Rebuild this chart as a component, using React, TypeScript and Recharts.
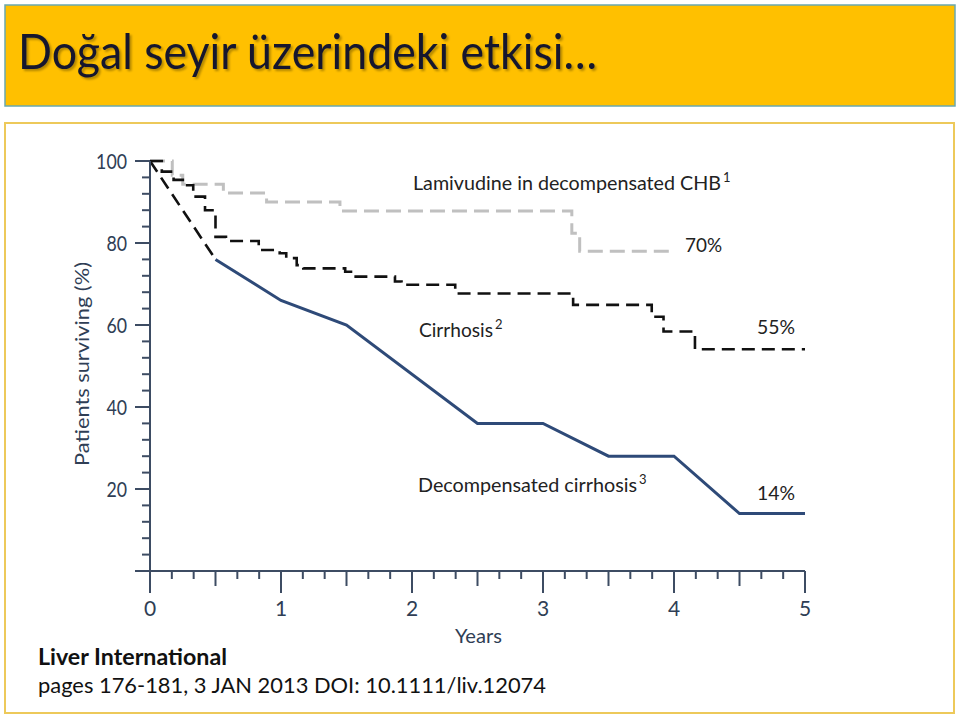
import { LineChart, Line, XAxis, YAxis } from "recharts";

// survival curves (t = years, v = % surviving)
const lamivudine = [
  { t: 0, v: 100 },
  { t: 0.17, v: 96.5 },
  { t: 0.25, v: 94.3 },
  { t: 0.56, v: 92.2 },
  { t: 0.89, v: 90 },
  { t: 1.45, v: 87.8 },
  { t: 3.22, v: 82.4 },
  { t: 3.28, v: 78 },
  { t: 3.99, v: 78 },
];

const cirrhosis = [
  { t: 0, v: 100 },
  { t: 0.09, v: 97.4 },
  { t: 0.18, v: 95.4 },
  { t: 0.27, v: 94.1 },
  { t: 0.33, v: 91.3 },
  { t: 0.42, v: 88.0 },
  { t: 0.5, v: 81.5 },
  { t: 0.58, v: 80.5 },
  { t: 0.83, v: 78.3 },
  { t: 0.99, v: 77.5 },
  { t: 1.04, v: 76.3 },
  { t: 1.12, v: 74.6 },
  { t: 1.17, v: 73.8 },
  { t: 1.49, v: 73.0 },
  { t: 1.57, v: 71.8 },
  { t: 1.87, v: 70.6 },
  { t: 1.92, v: 69.8 },
  { t: 2.33, v: 67.7 },
  { t: 3.23, v: 64.9 },
  { t: 3.83, v: 62.0 },
  { t: 3.92, v: 58.4 },
  { t: 4.16, v: 54.1 },
  { t: 5.0, v: 54.1 },
];

// first half year of decompensated cirrhosis is drawn dashed in the source
const decompStart = [
  { t: 0, v: 100 },
  { t: 0.5, v: 76 },
];

const decompensated = [
  { t: 0.5, v: 76 },
  { t: 1.0, v: 66 },
  { t: 1.5, v: 60 },
  { t: 2.5, v: 36 },
  { t: 3.0, v: 36 },
  { t: 3.5, v: 28 },
  { t: 4.0, v: 28 },
  { t: 4.5, v: 14 },
  { t: 5.0, v: 14 },
];

const yearLabels = [0, 1, 2, 3, 4, 5];
const pctLabels = [20, 40, 60, 80, 100];

// minor ticks: every 2 months on x, every 4% on y
const xTicks = Array.from({ length: 31 }, (_, i) => i / 6);
const yTicks = Array.from({ length: 26 }, (_, i) => i * 4);

const AXIS = "#3d4c63";
const LABEL = "#2f3e55";
const TEXT = "#222";
const FONT = "Lato, 'Open Sans', sans-serif";

const near = (a: number, b: number) => Math.abs(a - b) < 1e-6;

function XTick(props: any) {
  const { x, y, payload } = props;
  const val = payload.value;
  const isYear = yearLabels.some((d) => near(d, val));
  const isHalf = near(val * 2, Math.round(val * 2));
  const len = isYear ? 22 : isHalf ? 15 : 8;
  return (
    <g>
      <line x1={x} y1={y} x2={x} y2={y + len} stroke={AXIS} strokeWidth={2} />
      {isYear && (
        <text x={x} y={y + 45} textAnchor="middle" fontSize={21} fill={LABEL} fontFamily={FONT}>
          {Math.round(val)}
        </text>
      )}
    </g>
  );
}

function YTick(props: any) {
  const { x, y, payload } = props;
  const val = payload.value;
  const major = val % 20 === 0;
  const len = major ? 15 : 8;
  const show = pctLabels.includes(val);
  const s = String(val);
  return (
    <g>
      <line x1={x - len} y1={y} x2={x} y2={y} stroke={AXIS} strokeWidth={2} />
      {show && (
        <text
          x={x - 23}
          y={y + 8}
          textAnchor="end"
          fontSize={21}
          fill={LABEL}
          fontFamily={FONT}
          textLength={s.length * 10.3}
          lengthAdjust="spacingAndGlyphs"
        >
          {s}
        </text>
      )}
    </g>
  );
}

// label with a superscript note number, kept as one text element
function Note({ x, y, w, label, sup }: { x: number; y: number; w: number; label: string; sup: string }) {
  return (
    <text x={x} y={y} fontSize={19} fill={TEXT}>
      <tspan textLength={w} lengthAdjust="spacingAndGlyphs">{label}</tspan>
      <tspan dx={2} dy={-8} fontSize={13}>{sup}</tspan>
    </text>
  );
}

export default function App() {
  return (
    <div style={{ position: "absolute", left: 0, top: 0, width: 960, height: 716, background: "#fff", fontFamily: FONT }}>
      {/* slide frame + title */}
      <svg width={960} height={716} style={{ position: "absolute", left: 0, top: 0 }}>
        <defs>
          <filter id="shadow" x="-5%" y="-20%" width="110%" height="150%">
            <feDropShadow dx={2} dy={2} stdDeviation={1.2} floodColor="#000" floodOpacity={0.3} />
          </filter>
        </defs>
        <rect x={5} y={5} width={950} height={101} fill="#FFC000" stroke="#6aa8ae" strokeWidth={1.5} />
        <rect x={5} y={123} width={949} height={590} fill="#fff" stroke="#EDC95A" strokeWidth={2} />
        <text
          x={18}
          y={69}
          fontSize={48}
          fill="#14192e"
          textLength={579}
          lengthAdjust="spacingAndGlyphs"
          fontFamily={FONT}
          filter="url(#shadow)"
        >
          Doğal seyir üzerindeki etkisi…
        </text>
      </svg>

      <div style={{ position: "absolute", left: 0, top: 0 }}>
        <LineChart width={960} height={716} margin={{ top: 161, right: 155, left: 90, bottom: 115 }}>
          <XAxis
            dataKey="t"
            type="number"
            domain={[0, 5]}
            ticks={xTicks}
            interval={0}
            height={30}
            tickSize={0}
            tickMargin={0}
            tickLine={false}
            axisLine={{ stroke: AXIS, strokeWidth: 2 }}
            tick={<XTick />}
          />
          <YAxis
            dataKey="v"
            type="number"
            domain={[0, 100]}
            ticks={yTicks}
            interval={0}
            width={60}
            tickSize={0}
            tickMargin={0}
            tickLine={false}
            axisLine={{ stroke: AXIS, strokeWidth: 2 }}
            tick={<YTick />}
          />
          <Line data={lamivudine} dataKey="v" type="stepAfter" stroke="#c0c0c0" strokeWidth={3} strokeDasharray="15 7" dot={false} activeDot={false} isAnimationActive={false} />
          <Line data={cirrhosis} dataKey="v" type="stepAfter" stroke="#111" strokeWidth={2.6} strokeDasharray="13 7" dot={false} activeDot={false} isAnimationActive={false} />
          <Line data={decompStart} dataKey="v" type="linear" stroke="#111" strokeWidth={2.6} strokeDasharray="13 7" dot={false} activeDot={false} isAnimationActive={false} />
          <Line data={decompensated} dataKey="v" type="linear" stroke="#2e4a78" strokeWidth={3} dot={false} activeDot={false} isAnimationActive={false} />
        </LineChart>
      </div>

      {/* annotations, axis titles, source */}
      <svg width={960} height={716} style={{ position: "absolute", left: 0, top: 0, pointerEvents: "none" }} fontFamily={FONT}>
        <Note x={413} y={190} w={308} label="Lamivudine in decompensated CHB" sup="1" />
        <text x={685} y={252} fontSize={20} fill={TEXT} textLength={37} lengthAdjust="spacingAndGlyphs">70%</text>
        <Note x={419} y={337} w={74} label="Cirrhosis" sup="2" />
        <text x={757} y={334} fontSize={20} fill={TEXT} textLength={38} lengthAdjust="spacingAndGlyphs">55%</text>
        <Note x={418} y={492} w={219} label="Decompensated cirrhosis" sup="3" />
        <text x={757} y={500} fontSize={20} fill={TEXT} textLength={38} lengthAdjust="spacingAndGlyphs">14%</text>

        <text x={455} y={643} fontSize={20} fill={LABEL} textLength={47} lengthAdjust="spacingAndGlyphs">Years</text>
        <text transform="translate(89,364) rotate(-90)" textAnchor="middle" fontSize={20} fill={LABEL} textLength={204} lengthAdjust="spacingAndGlyphs">
          Patients surviving (%)
        </text>

        <text x={38} y={665} fontSize={22} fontWeight="bold" fill="#111" textLength={189} lengthAdjust="spacingAndGlyphs">Liver International</text>
        <text x={38} y={693} fontSize={22} fill="#111" textLength={508} lengthAdjust="spacingAndGlyphs">pages 176-181, 3 JAN 2013 DOI: 10.1111/liv.12074</text>
      </svg>
    </div>
  );
}
